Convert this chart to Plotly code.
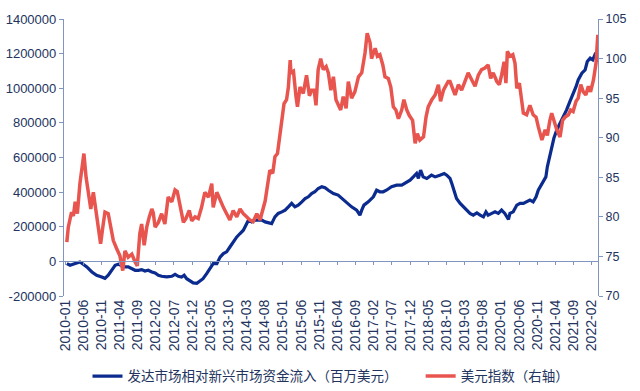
import plotly.graph_objects as go

# x positions are months elapsed since 2010-01
tick_labels = ["2010-01", "2010-06", "2010-11", "2011-04", "2011-09", "2012-02", "2012-07",
               "2012-12", "2013-05", "2013-10", "2014-03", "2014-08", "2015-01", "2015-06",
               "2015-11", "2016-04", "2016-09", "2017-02", "2017-07", "2017-12", "2018-05",
               "2018-10", "2019-03", "2019-08", "2020-01", "2020-06", "2020-11", "2021-04",
               "2021-09", "2022-02"]
tick_months = [0, 5, 10, 15, 20, 25, 30, 35, 40, 45, 50, 55, 60, 65, 70, 75, 80, 85, 90, 95,
               100, 105, 110, 115, 120, 125, 130, 135, 140, 145]

flow_months = [0.5, 1.4, 2.8, 4.1, 5.0, 6.0, 7.4, 8.7, 10.1, 11.0, 11.9, 12.9, 13.8, 14.7, 15.6,
               16.5, 17.4, 18.4, 19.3, 20.2, 21.1, 22.0, 22.9, 23.9, 24.8, 25.7, 26.6, 28.0, 29.4,
               30.3, 31.2, 32.1, 32.8, 33.5, 34.4, 35.3, 36.3, 37.2, 38.0, 39.0, 39.9, 40.8, 41.8,
               42.7, 43.6, 44.5, 45.4, 46.3, 47.3, 48.2, 49.1, 49.8, 50.5, 51.4, 52.3, 53.2, 54.2,
               55.1, 56.0, 56.9, 57.8, 58.7, 59.7, 60.6, 61.5, 62.4, 63.3, 64.2, 65.2, 66.1, 67.0,
               67.9, 68.8, 69.7, 70.7, 71.6, 72.5, 73.9, 75.2, 76.2, 77.6, 78.9, 80.3, 81.2, 81.7,
               82.3, 83.5, 84.9, 85.8, 86.7, 87.6, 88.5, 89.9, 91.3, 92.7, 94.1, 95.0, 95.9, 96.8,
               97.3, 97.9, 98.6, 99.6, 100.9, 101.9, 103.2, 104.4, 105.1, 106.0, 106.5, 107.1,
               107.8, 108.8, 109.7, 110.6, 111.5, 112.4, 113.4, 114.3, 115.2, 115.9, 116.5, 117.5,
               118.4, 119.3, 120.2, 121.1, 122.1, 122.5, 123.4, 124.4, 125.3, 126.2, 127.3, 128.0,
               128.9, 129.7, 130.3, 131.0, 131.7, 132.4, 132.8, 133.4, 134.0, 134.6, 135.4, 136.3,
               137.2, 138.1, 139.0, 140.0, 140.7, 141.3, 142.3, 143.2, 143.8, 144.6, 145.3, 145.9,
               146.4, 146.8]
flow_values = [-12700, -22600, -12700, -3500, -16800, -32000, -61000, -80000, -90000, -98000,
               -80000, -51500, -22600, -16800, -22600, -32000, -32000, -42000, -51500, -51500,
               -47700, -55400, -51500, -61000, -67000, -80000, -86000, -90000, -86000, -75000,
               -86000, -90000, -80000, -100000, -114000, -124000, -127000, -114000, -100000,
               -71000, -42000, -13000, -13000, 25000, 45000, 55000, 83000, 112000, 141000, 161000,
               180000, 209000, 238000, 228000, 238000, 238000, 238000, 228000, 222000, 218000,
               257000, 277000, 286000, 296000, 315000, 335000, 315000, 325000, 344000, 363000,
               373000, 392000, 402000, 421000, 431000, 425000, 411000, 392000, 383000, 363000,
               335000, 315000, 296000, 267000, 296000, 325000, 344000, 373000, 411000, 402000,
               402000, 411000, 431000, 440000, 440000, 460000, 469000, 488000, 508000, 479000,
               527000, 488000, 479000, 498000, 488000, 498000, 508000, 498000, 479000, 450000,
               402000, 363000, 335000, 315000, 296000, 277000, 267000, 280000, 267000, 257000,
               286000, 267000, 277000, 286000, 277000, 296000, 277000, 242000, 277000, 286000,
               325000, 335000, 335000, 344000, 354000, 344000, 373000, 411000, 440000, 460000,
               488000, 546000, 604000, 662000, 711000, 759000, 797000, 836000, 875000, 923000,
               971000, 1009000, 1048000, 1087000, 1106000, 1154000, 1174000, 1164000, 1193000,
               1183000, 1154000]

dxy_months = [0.5, 0.9, 1.8, 2.3, 2.8, 3.4, 4.1, 4.9, 5.2, 5.8, 6.4, 7.1, 7.8, 8.5, 9.2, 9.8,
              10.4, 11.0, 11.9, 12.6, 13.3, 14.2, 15.1, 15.9, 16.5, 17.4, 18.4, 19.3, 19.9, 20.6,
              21.1, 21.8, 22.5, 23.2, 23.9, 24.3, 24.8, 25.7, 26.6, 27.5, 28.4, 29.4, 30.3, 30.9,
              31.7, 32.6, 33.3, 34.2, 34.9, 35.8, 36.7, 37.6, 38.5, 39.5, 40.4, 40.8, 41.8, 42.7,
              43.6, 44.5, 45.4, 46.3, 47.3, 48.2, 49.1, 50.0, 50.9, 51.8, 52.8, 53.7, 54.4, 55.1,
              55.7, 56.4, 57.2, 57.8, 58.5, 59.0, 59.7, 60.3, 61.0, 61.5, 62.0, 62.2, 62.9, 63.6,
              64.0, 64.7, 65.6, 66.5, 67.3, 67.9, 68.6, 69.1, 69.7, 70.4, 71.1, 71.9, 72.5, 73.2,
              73.9, 74.6, 75.2, 75.9, 76.6, 77.4, 78.0, 78.9, 79.8, 80.8, 81.7, 82.6, 83.2, 84.0,
              84.4, 85.4, 86.0, 86.7, 87.5, 88.1, 89.0, 89.7, 90.4, 91.1, 91.8, 92.7, 93.3, 94.1,
              94.8, 95.7, 96.4, 97.0, 97.7, 98.7, 99.4, 100.0, 101.0, 101.9, 102.8, 103.4, 104.2,
              104.9, 105.5, 106.0, 107.4, 108.3, 109.2, 110.1, 111.0, 112.0, 112.9, 113.8, 114.7,
              115.6, 116.5, 117.2, 117.9, 118.9, 119.6, 120.2, 120.9, 121.4, 121.8, 122.5, 123.3,
              123.9, 124.4, 125.1, 125.7, 126.2, 127.1, 128.0, 128.9, 129.7, 130.3, 131.3, 132.2,
              132.8, 133.5, 134.0, 134.6, 135.4, 136.3, 137.0, 137.7, 138.6, 139.2, 139.9, 140.7,
              141.3, 142.0, 142.7, 143.4, 144.1, 144.7, 145.5, 146.2, 146.7]
dxy_values = [76.8, 78.7, 80.6, 80.1, 81.9, 80.4, 84.2, 87.4, 88.0, 85.0, 83.4, 81.0, 83.1, 80.8,
              78.3, 76.6, 78.7, 80.6, 80.4, 78.7, 77.0, 76.0, 75.1, 73.2, 75.7, 74.9, 75.3, 74.3,
              73.8, 77.9, 79.1, 76.4, 78.7, 80.0, 81.0, 80.5, 78.7, 79.3, 80.4, 79.1, 82.5, 81.9,
              83.4, 83.2, 81.5, 79.3, 79.8, 80.8, 79.5, 80.0, 79.8, 81.2, 83.1, 82.5, 84.2, 81.2,
              83.1, 82.0, 81.2, 80.4, 79.6, 80.8, 80.0, 81.0, 80.4, 80.0, 79.6, 79.4, 80.4, 79.6,
              80.8, 82.0, 83.8, 85.9, 85.5, 87.6, 88.0, 90.1, 92.2, 94.3, 94.8, 96.4, 99.8, 98.2,
              98.4, 95.2, 93.9, 96.4, 95.6, 97.9, 95.3, 96.0, 96.0, 94.1, 98.6, 100.0, 98.6, 99.0,
              98.2, 96.0, 97.7, 94.8, 94.1, 93.5, 95.2, 93.7, 97.1, 95.0, 95.8, 97.7, 98.2, 100.7,
              103.2, 102.0, 100.0, 101.3, 100.3, 100.5, 99.2, 97.7, 97.5, 96.4, 93.9, 93.5, 92.4,
              93.5, 94.8, 93.5, 92.8, 92.2, 89.3, 90.5, 89.7, 90.1, 92.6, 93.9, 94.8, 95.4, 96.7,
              94.6, 96.0, 96.7, 97.1, 97.1, 95.4, 96.7, 96.0, 97.1, 98.2, 97.3, 96.5, 97.9, 98.6,
              98.8, 99.2, 97.5, 98.2, 97.1, 96.7, 97.9, 99.6, 96.9, 100.9, 100.3, 100.5, 99.4,
              96.25, 96.9, 94.8, 93.1, 92.9, 94.1, 92.9, 92.6, 91.4, 89.7, 91.0, 90.3, 92.2, 93.1,
              92.2, 91.0, 90.1, 92.2, 92.6, 92.9, 93.5, 93.3, 94.6, 95.0, 96.7, 95.8, 95.4, 96.5,
              95.8, 97.3, 99.4, 103.0]

left_ticks = [-200000, 0, 200000, 400000, 600000, 800000, 1000000, 1200000, 1400000]
right_ticks = [70, 75, 80, 85, 90, 95, 100, 105]

BLUE = "#0B2C8E"
RED = "#E8554F"
AX = "#8096C0"
TXT = "#22345E"
XRANGE = [-0.28, 146.75]
LRANGE = [-200000, 1400000]
RRANGE = [70, 105]
NBSP = "\u00a0"

fig = go.Figure()
fig.add_trace(go.Scatter(x=flow_months, y=flow_values, mode="lines",
                         line=dict(color=BLUE, width=3.2),
                         name="发达市场相对新兴市场资金流入（百万美元）" + NBSP * 6))
fig.add_trace(go.Scatter(x=dxy_months, y=dxy_values, mode="lines", yaxis="y2",
                         line=dict(color=RED, width=3.5),
                         name="美元指数（右轴）"))
# empty trace that carries the zero-crossing category axis
fig.add_trace(go.Scatter(x=[tick_months[0]], y=[None], xaxis="x2", mode="lines",
                         showlegend=False, hoverinfo="skip"))

zero_pos = (0 - LRANGE[0]) / (LRANGE[1] - LRANGE[0])

fig.update_layout(
    width=640, height=391,
    margin=dict(l=64, r=42, t=19, b=95, autoexpand=False),
    paper_bgcolor="white", plot_bgcolor="white",
    showlegend=True,
    legend=dict(orientation="h", x=0.5, xanchor="center", y=-0.29, yanchor="middle",
                font=dict(family="Noto Sans CJK SC", size=13.5, color=TXT),
                itemwidth=30, tracegroupgap=0),
    xaxis=dict(range=XRANGE, tickvals=tick_months, ticktext=tick_labels, tickangle=-90,
               ticks="", showline=False, showgrid=False, zeroline=False, automargin=False,
               tickfont=dict(family="Liberation Sans", size=14, color=TXT)),
    xaxis2=dict(range=XRANGE, overlaying="x", anchor="free", position=zero_pos,
                tickvals=tick_months, showticklabels=False, ticks="outside", ticklen=3,
                tickcolor=AX, showline=True, linecolor=AX, linewidth=1.2,
                showgrid=False, zeroline=False, automargin=False),
    yaxis=dict(range=LRANGE, tickvals=left_ticks, ticktext=[str(v) for v in left_ticks],
               ticks="outside", ticklen=4, tickcolor=AX, showline=True, linecolor=AX,
               linewidth=1.2, showgrid=False, zeroline=False, automargin=False,
               tickfont=dict(family="Liberation Sans", size=13, color=TXT)),
    yaxis2=dict(range=RRANGE, tickvals=right_ticks, overlaying="y", side="right",
                ticks="outside", ticklen=4, tickcolor=AX, showline=True, linecolor=AX,
                linewidth=1.2, showgrid=False, zeroline=False, automargin=False,
                tickfont=dict(family="Liberation Sans", size=12.5, color=TXT)),
)

fig.write_html("out.html", config={"displayModeBar": False},
               post_script="document.body.style.margin='0';document.body.style.padding='0';")
